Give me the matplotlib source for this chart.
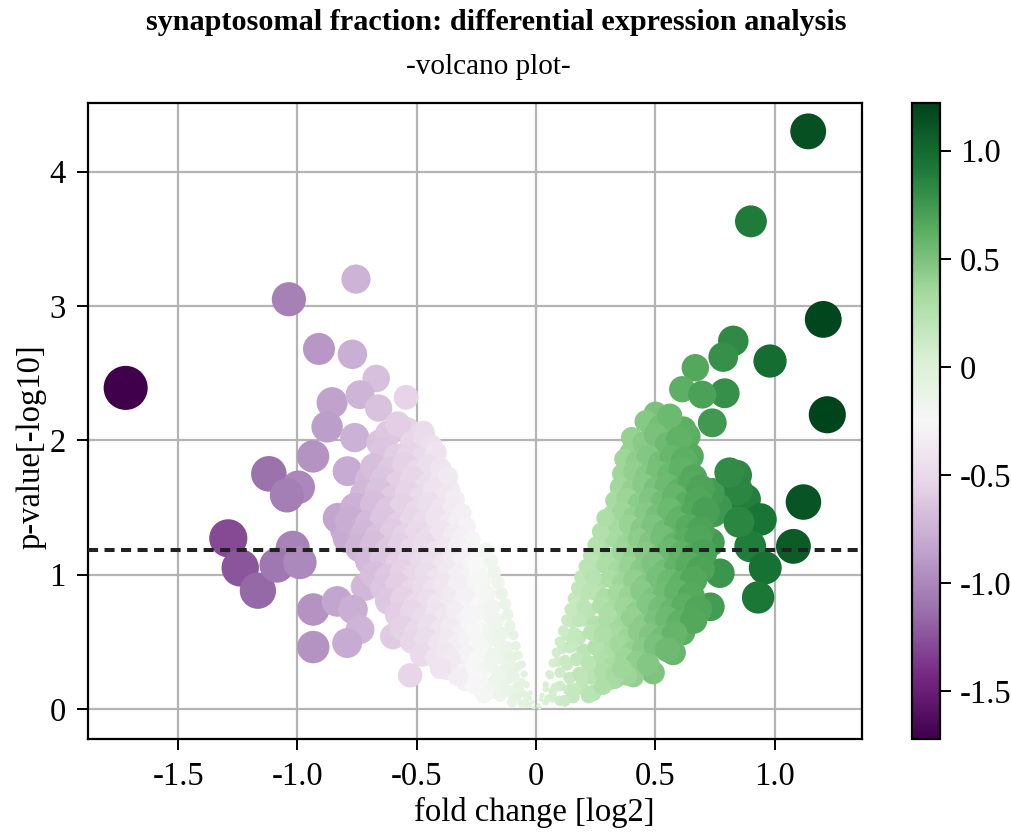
import matplotlib
matplotlib.use("Agg")
import matplotlib.pyplot as plt
import numpy as np
from matplotlib.ticker import FuncFormatter

plt.rcParams["font.family"] = ["Liberation Serif", "DejaVu Serif"]

# ── down-regulated (negative fold change) ─────────────────────────────
fc_down = [
    -1.72, -1.036, -0.755, -0.91, -0.77, -0.67, -0.545, -0.855, -0.738, -0.66,
    -0.876, -0.76, -0.935, -1.12, -0.997, -1.044, -0.79, -0.70, -1.29, -1.24,
    -1.166, -1.02, -1.086, -0.99, -0.82, -0.80, -0.746, -0.717, -0.934, -0.934,
    -0.834, -0.767, -0.738, -0.792, -0.60, -0.528, -0.54, -0.48, -0.654, -0.54,
    -0.474, -0.43, -0.57, -0.486, -0.415, -0.36, -0.32, -0.654, -0.625, -0.83,
    -0.79, -0.445, -0.373, -0.29, -0.235, -0.164, -0.096, -0.038,
    # dense wedge
    -0.62, -0.58, -0.52, -0.47, -0.44,
    -0.64, -0.585, -0.53, -0.48, -0.42,
    -0.68, -0.61, -0.55, -0.50, -0.45, -0.40,
    -0.64, -0.58, -0.52, -0.46, -0.405, -0.37,
    -0.72, -0.66, -0.60, -0.54, -0.48, -0.43, -0.38, -0.34,
    -0.76, -0.68, -0.62, -0.56, -0.50, -0.45, -0.40, -0.35, -0.31,
    -0.78, -0.70, -0.64, -0.58, -0.52, -0.47, -0.42, -0.37, -0.33, -0.29,
    -0.72, -0.66, -0.60, -0.55, -0.50, -0.45, -0.40, -0.35, -0.31, -0.27,
    -0.74, -0.68, -0.62, -0.57, -0.52, -0.47, -0.42, -0.38, -0.33, -0.29, -0.25,
    -0.70, -0.64, -0.58, -0.53, -0.48, -0.44, -0.39, -0.35, -0.31, -0.27, -0.24,
    -0.68, -0.62, -0.56, -0.51, -0.46, -0.42, -0.37, -0.33, -0.29, -0.25, -0.22,
    -0.64, -0.58, -0.52, -0.47, -0.43, -0.39, -0.35, -0.31, -0.27, -0.23, -0.20,
    -0.62, -0.56, -0.50, -0.45, -0.41, -0.36, -0.32, -0.28, -0.24, -0.21, -0.18,
    -0.58, -0.52, -0.47, -0.42, -0.38, -0.34, -0.30, -0.26, -0.22, -0.19, -0.16,
    -0.56, -0.50, -0.45, -0.40, -0.36, -0.32, -0.28, -0.24, -0.20, -0.17, -0.14,
    -0.52, -0.46, -0.41, -0.37, -0.33, -0.29, -0.25, -0.21, -0.18, -0.15, -0.12,
    -0.48, -0.42, -0.38, -0.33, -0.29, -0.25, -0.21, -0.18, -0.15, -0.12, -0.10,
    -0.40, -0.35, -0.30, -0.26, -0.22, -0.19, -0.16, -0.13, -0.10, -0.08,
    -0.30, -0.25, -0.21, -0.17, -0.14, -0.11, -0.08, -0.06,
    -0.20, -0.15, -0.11, -0.08, -0.05, -0.03,
    -0.06, -0.03, -0.01,
]
p_down = [
    2.39, 3.05, 3.20, 2.68, 2.64, 2.46, 2.32, 2.28, 2.34, 2.24,
    2.10, 2.02, 1.88, 1.75, 1.65, 1.59, 1.77, 1.71, 1.27, 1.05,
    0.88, 1.20, 1.07, 1.09, 1.41, 1.33, 1.32, 0.91, 0.74, 0.46,
    0.80, 0.74, 0.59, 0.49, 0.54, 0.25, 0.79, 0.66, 1.98, 2.08,
    2.06, 1.88, 1.85, 1.76, 1.71, 1.63, 1.43, 1.63, 1.43, 1.42,
    1.27, 0.42, 0.29, 0.22, 0.14, 0.12, 0.09, 0.03,
    2.05, 2.12, 1.98, 2.02, 1.96,
    1.92, 1.88, 1.90, 1.86, 1.91,
    1.80, 1.78, 1.82, 1.77, 1.81, 1.79,
    1.70, 1.68, 1.72, 1.66, 1.69, 1.73,
    1.60, 1.62, 1.57, 1.61, 1.58, 1.63, 1.59, 1.56,
    1.50, 1.52, 1.48, 1.51, 1.47, 1.53, 1.49, 1.50, 1.46,
    1.40, 1.38, 1.42, 1.37, 1.41, 1.39, 1.43, 1.38, 1.40, 1.36,
    1.30, 1.28, 1.32, 1.29, 1.31, 1.27, 1.33, 1.30, 1.28, 1.26,
    1.20, 1.22, 1.18, 1.21, 1.19, 1.23, 1.17, 1.20, 1.22, 1.18, 1.16,
    1.10, 1.12, 1.08, 1.11, 1.09, 1.13, 1.07, 1.10, 1.12, 1.08, 1.06,
    1.00, 0.98, 1.02, 0.99, 1.01, 0.97, 1.03, 1.00, 0.98, 1.01, 0.96,
    0.90, 0.92, 0.88, 0.91, 0.89, 0.93, 0.87, 0.90, 0.92, 0.88, 0.86,
    0.80, 0.82, 0.78, 0.81, 0.79, 0.83, 0.77, 0.80, 0.78, 0.81, 0.76,
    0.70, 0.72, 0.68, 0.71, 0.69, 0.73, 0.67, 0.70, 0.72, 0.68, 0.66,
    0.60, 0.58, 0.62, 0.59, 0.61, 0.57, 0.63, 0.60, 0.58, 0.61, 0.56,
    0.50, 0.52, 0.48, 0.51, 0.49, 0.53, 0.47, 0.50, 0.52, 0.48, 0.46,
    0.40, 0.38, 0.42, 0.39, 0.41, 0.37, 0.43, 0.40, 0.38, 0.41, 0.39,
    0.30, 0.32, 0.28, 0.31, 0.29, 0.33, 0.27, 0.30, 0.28, 0.31,
    0.20, 0.22, 0.18, 0.21, 0.19, 0.23, 0.17, 0.20,
    0.12, 0.10, 0.13, 0.09, 0.11, 0.08,
    0.04, 0.03, 0.01,
]

# points along the inner edge of the left wedge, close to the origin
fc_down_core = [
    -0.015, -0.025, -0.04, -0.05, -0.06, -0.075, -0.085, -0.095, -0.11, -0.12,
    -0.13, -0.145, -0.16, -0.175, -0.19, -0.21,
    -0.04, -0.07, -0.09, -0.11, -0.13, -0.15, -0.17, -0.19, -0.21, -0.23, -0.25,
    -0.10, -0.13, -0.16, -0.19, -0.23, -0.26, -0.28, -0.30, -0.33,
    -0.22, -0.26, -0.33, -0.36, -0.40,
]
p_down_core = [
    0.05, 0.12, 0.18, 0.26, 0.33, 0.40, 0.47, 0.55, 0.62, 0.70,
    0.78, 0.86, 0.94, 1.02, 1.10, 1.18,
    0.07, 0.15, 0.24, 0.33, 0.45, 0.55, 0.66, 0.76, 0.86, 0.97, 1.07,
    0.05, 0.14, 0.25, 0.35, 0.47, 0.58, 0.70, 0.85, 0.95,
    0.10, 0.17, 0.24, 0.38, 0.30,
]

# ── up-regulated (positive fold change) ───────────────────────────────
fc_up = [
    1.14, 0.90, 1.203, 0.98, 0.826, 0.784, 0.667, 0.612, 0.79, 1.22,
    0.738, 0.696, 0.633, 0.50, 0.533, 0.84, 0.742, 0.876, 0.94, 0.742,
    1.12, 1.078, 0.897, 0.96, 0.93, 0.73, 0.77, 0.73, 0.633, 0.612,
    0.574, 0.49, 0.407, 0.31, 0.155, 0.616, 0.616, 0.533, 0.843, 0.76,
    0.85, 0.616, 0.52, 0.528, 0.646, 0.633, 0.562, 0.394, 0.42,
    0.38, 0.73, 0.81,
    # dense wedge
    0.46, 0.52, 0.56,
    0.40, 0.45, 0.50, 0.55, 0.60,
    0.37, 0.42, 0.47, 0.52, 0.57, 0.62,
    0.36, 0.41, 0.46, 0.51, 0.56, 0.61, 0.66,
    0.35, 0.40, 0.45, 0.50, 0.55, 0.60, 0.65, 0.69,
    0.33, 0.38, 0.43, 0.48, 0.53, 0.58, 0.63, 0.68,
    0.32, 0.36, 0.41, 0.46, 0.51, 0.56, 0.61, 0.66, 0.71,
    0.30, 0.34, 0.39, 0.44, 0.49, 0.54, 0.59, 0.64, 0.69,
    0.28, 0.33, 0.38, 0.43, 0.48, 0.53, 0.58, 0.63, 0.68,
    0.26, 0.31, 0.36, 0.41, 0.46, 0.51, 0.56, 0.61, 0.66, 0.70,
    0.24, 0.29, 0.34, 0.39, 0.44, 0.49, 0.54, 0.59, 0.64, 0.69,
    0.21, 0.26, 0.31, 0.36, 0.41, 0.46, 0.51, 0.56, 0.61, 0.66,
    0.20, 0.24, 0.29, 0.34, 0.39, 0.44, 0.49, 0.54, 0.59, 0.65,
    0.18, 0.22, 0.27, 0.32, 0.37, 0.42, 0.47, 0.52, 0.57, 0.62, 0.68,
    0.15, 0.20, 0.25, 0.30, 0.35, 0.40, 0.45, 0.50, 0.55, 0.60, 0.66,
    0.13, 0.18, 0.23, 0.28, 0.33, 0.38, 0.43, 0.48, 0.53, 0.58,
    0.11, 0.15, 0.20, 0.25, 0.30, 0.35, 0.40, 0.45, 0.50, 0.55,
    0.09, 0.13, 0.17, 0.22, 0.27, 0.32, 0.37, 0.42, 0.47,
    0.06, 0.10, 0.14, 0.18, 0.23, 0.28, 0.33, 0.38,
    0.04, 0.07, 0.10, 0.14, 0.19, 0.24,
    0.02, 0.04, 0.07, 0.10,
    0.005, 0.015,
]
p_up = [
    4.30, 3.63, 2.90, 2.59, 2.74, 2.62, 2.54, 2.38, 2.35, 2.19,
    2.13, 2.34, 2.03, 2.20, 2.00, 1.74, 1.61, 1.56, 1.41, 1.46,
    1.54, 1.21, 1.21, 1.05, 0.83, 1.24, 1.01, 0.76, 1.88, 0.57,
    0.42, 0.27, 0.24, 0.21, 0.09, 0.96, 1.21, 1.58, 1.63, 1.50,
    1.39, 2.08, 2.00, 1.78, 1.88, 1.65, 1.65, 1.91, 1.78,
    1.63, 1.61, 1.76,
    2.14, 2.10, 2.18,
    2.02, 1.98, 2.04, 1.97, 2.01,
    1.86, 1.84, 1.88, 1.83, 1.87, 1.85,
    1.75, 1.77, 1.73, 1.76, 1.74, 1.78, 1.72,
    1.65, 1.63, 1.67, 1.64, 1.66, 1.62, 1.68, 1.64,
    1.55, 1.57, 1.53, 1.56, 1.54, 1.58, 1.52, 1.55,
    1.45, 1.47, 1.43, 1.46, 1.44, 1.48, 1.42, 1.45, 1.47,
    1.35, 1.33, 1.37, 1.34, 1.36, 1.32, 1.38, 1.35, 1.33,
    1.25, 1.27, 1.23, 1.26, 1.24, 1.28, 1.22, 1.25, 1.27,
    1.15, 1.13, 1.17, 1.14, 1.16, 1.12, 1.18, 1.15, 1.13, 1.16,
    1.05, 1.07, 1.03, 1.06, 1.04, 1.08, 1.02, 1.05, 1.07, 1.04,
    0.95, 0.93, 0.97, 0.94, 0.96, 0.92, 0.98, 0.95, 0.93, 0.96,
    0.85, 0.87, 0.83, 0.86, 0.84, 0.88, 0.82, 0.85, 0.87, 0.84,
    0.75, 0.73, 0.77, 0.74, 0.76, 0.72, 0.78, 0.75, 0.73, 0.76, 0.74,
    0.65, 0.67, 0.63, 0.66, 0.64, 0.68, 0.62, 0.65, 0.67, 0.64, 0.66,
    0.55, 0.53, 0.57, 0.54, 0.56, 0.52, 0.58, 0.55, 0.53, 0.56,
    0.45, 0.47, 0.43, 0.46, 0.44, 0.48, 0.42, 0.45, 0.47, 0.44,
    0.35, 0.33, 0.37, 0.34, 0.36, 0.32, 0.38, 0.35, 0.33,
    0.25, 0.27, 0.23, 0.26, 0.24, 0.28, 0.22, 0.25,
    0.15, 0.13, 0.17, 0.14, 0.16, 0.12,
    0.07, 0.05, 0.08, 0.06,
    0.02, 0.01,
]

# points along the inner edge of the right wedge, close to the origin
fc_up_core = [
    0.01, 0.025, 0.04, 0.055, 0.07, 0.085, 0.10, 0.115, 0.13, 0.145,
    0.16, 0.175, 0.19, 0.21, 0.23, 0.25, 0.27, 0.29,
    0.05, 0.08, 0.10, 0.12, 0.14, 0.16, 0.18, 0.20, 0.22, 0.24,
    0.12, 0.16, 0.19, 0.22, 0.25, 0.28, 0.30,
    0.22, 0.28, 0.33, 0.36,
]
p_up_core = [
    0.03, 0.10, 0.18, 0.26, 0.34, 0.42, 0.50, 0.58, 0.66, 0.74,
    0.82, 0.90, 0.98, 1.06, 1.14, 1.22, 1.32, 1.42,
    0.08, 0.16, 0.27, 0.36, 0.46, 0.56, 0.66, 0.76, 0.88, 0.98,
    0.06, 0.14, 0.24, 0.34, 0.46, 0.56, 0.70,
    0.10, 0.17, 0.25, 0.30,
]

threshold = 1.18
x_ticks = [-1.5, -1.0, -0.5, 0, 0.5, 1.0]
y_ticks = [0, 1, 2, 3, 4]
cbar_ticks = [-1.5, -1.0, -0.5, 0, 0.5, 1.0]


def fmt_tick(v, pos=None):
    if abs(v) < 1e-9:
        return "0"
    return f"{v:.1f}"


fc = np.array(fc_down + fc_up + fc_down_core + fc_up_core)
pval = np.array(p_down + p_up + p_down_core + p_up_core)

fig = plt.figure(figsize=(10.11, 8.32), dpi=100)
ax = fig.add_axes([0.087, 0.112, 0.766, 0.764])
cax = fig.add_axes([0.902, 0.112, 0.028, 0.764])

ax.grid(True, color="#b4b4b4", linewidth=1.6, zorder=0)
ax.set_axisbelow(True)
sc = ax.scatter(fc, pval, c=fc, s=585 * np.abs(fc), cmap="PRGn",
                linewidths=0, zorder=2)
ax.axhline(threshold, color="#222222", linewidth=2.9, linestyle=(0, (2.5, 1.6)), zorder=3)

ax.set_xlim(-1.878, 1.367)
ax.set_ylim(-0.223, 4.51)
ax.set_xticks(x_ticks)
ax.set_yticks(y_ticks)
ax.xaxis.set_major_formatter(FuncFormatter(fmt_tick))
ax.tick_params(labelsize=23.5, length=8, width=1.4, pad=8)
for sp in ax.spines.values():
    sp.set_linewidth(1.6)

ax.set_xlabel("fold change [log2]", fontsize=23.5, labelpad=4, x=0.576)
ax.set_ylabel("p-value[-log10]", fontsize=23.5, labelpad=2, y=0.459)

cb = fig.colorbar(sc, cax=cax)
cb.set_ticks(cbar_ticks)
cb.ax.yaxis.set_major_formatter(FuncFormatter(fmt_tick))
cb.ax.tick_params(labelsize=23.5, length=8, width=1.4, pad=6)
cb.outline.set_linewidth(1.6)

fig.text(0.491, 0.973, "synaptosomal fraction: differential expression analysis",
         ha="center", va="center", fontsize=21.8, fontweight="bold")
fig.text(0.483, 0.919, "-volcano plot-", ha="center", va="center", fontsize=21)

fig.savefig("out.png", dpi=100)
